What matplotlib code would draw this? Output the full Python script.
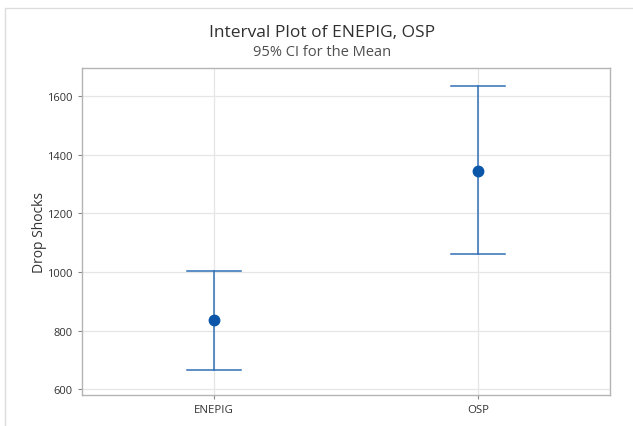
import matplotlib.pyplot as plt
from matplotlib.patches import Rectangle

plt.rcParams["font.family"] = ["Open Sans", "DejaVu Sans"]

groups = ["ENEPIG", "OSP"]
means = [837, 1346]
ci_low = [667, 1060]
ci_high = [1002, 1636]
yticks = [600, 800, 1000, 1200, 1400, 1600]

line_color = "#2f6fb7"
dot_color = "#0b56a8"
grid_color = "#e6e6e6"
text_color = "#333333"

fig = plt.figure(figsize=(6.33, 4.27), dpi=100, facecolor="white")
ax = fig.add_axes([82 / 633, 1 - 396 / 427, (610 - 82) / 633, (396 - 69) / 427])

# outer chart frame (cut off on the right/bottom)
fig.patches.append(Rectangle((5 / 633, -0.1), 1.2, 1 - 9 / 427 + 0.1,
                             transform=fig.transFigure, fill=False,
                             edgecolor="#dcdcdc", linewidth=1))

x = list(range(1, len(groups) + 1))
for xi, m, lo, hi in zip(x, means, ci_low, ci_high):
    ax.plot([xi, xi], [lo, hi], color=line_color, linewidth=1.1, zorder=3)
    ax.plot([xi - 0.104, xi + 0.104], [hi, hi], color=line_color, linewidth=1.1, zorder=3)
    ax.plot([xi - 0.104, xi + 0.104], [lo, lo], color=line_color, linewidth=1.1, zorder=3)
ax.plot(x, means, "o", color=dot_color, markersize=7.5, zorder=4)

ax.set_xlim(0.5, 2.5)
ax.set_ylim(580, 1697)
ax.set_xticks(x, groups)
ax.set_yticks(yticks)
ax.grid(True, color=grid_color, linewidth=0.9)
ax.set_axisbelow(True)

for s in ax.spines.values():
    s.set_color("#b4b4b4")
    s.set_linewidth(1.0)

ax.tick_params(axis="both", colors="#888888", labelcolor=text_color, length=3, width=0.8)
ax.tick_params(axis="y", labelsize=8)
ax.tick_params(axis="x", labelsize=8.2)
ax.set_ylabel("Drop Shocks", fontsize=10, color=text_color)
ax.yaxis.set_label_coords((47 - 82) / 528, 0.5)

cx = 322 / 633
fig.text(cx, 1 - 33 / 427, "Interval Plot of ENEPIG, OSP",
         ha="center", va="center", fontsize=12.5, color="#303030")
fig.text(cx, 1 - 52 / 427, "95% CI for the Mean",
         ha="center", va="center", fontsize=10.5, color="#505050")

plt.savefig("out.png", dpi=100, facecolor="white")
